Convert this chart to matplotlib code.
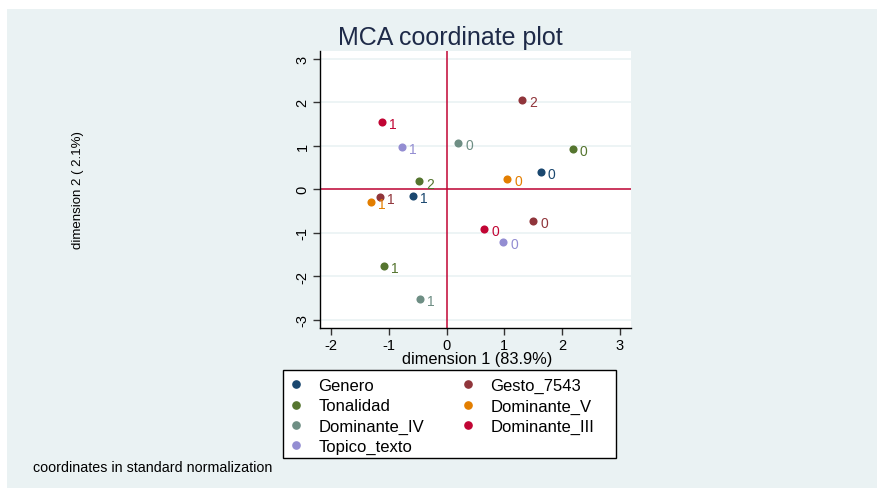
import matplotlib
matplotlib.use("Agg")
import matplotlib.pyplot as plt
from matplotlib.patches import Rectangle
from matplotlib.lines import Line2D

plt.rcParams['font.family'] = ['Liberation Sans', 'DejaVu Sans']

# Data: (variable, category labels, dim1, dim2)
variables = ["Genero", "Gesto_7543", "Tonalidad", "Dominante_V",
             "Dominante_IV", "Dominante_III", "Topico_texto"]
colors = ["#1A476F", "#90353B", "#55752F", "#E37E00",
          "#6E8E84", "#C10534", "#938DD2"]

genero_cats = ["0", "1"]
genero_d1 = [1.63, -0.58]
genero_d2 = [0.39, -0.15]

gesto_cats = ["2", "1", "0"]
gesto_d1 = [1.31, -1.15, 1.50]
gesto_d2 = [2.05, -0.17, -0.72]

tonalidad_cats = ["0", "1", "2"]
tonalidad_d1 = [2.19, -1.08, -0.48]
tonalidad_d2 = [0.93, -1.76, 0.18]

domv_cats = ["0", "1"]
domv_d1 = [1.05, -1.31]
domv_d2 = [0.23, -0.30]

domiv_cats = ["0", "1"]
domiv_d1 = [0.20, -0.46]
domiv_d2 = [1.06, -2.52]

domiii_cats = ["1", "0"]
domiii_d1 = [-1.12, 0.65]
domiii_d2 = [1.55, -0.92]

topico_cats = ["1", "0"]
topico_d1 = [-0.77, 0.98]
topico_d2 = [0.97, -1.22]

series = [
    (genero_cats, genero_d1, genero_d2),
    (gesto_cats, gesto_d1, gesto_d2),
    (tonalidad_cats, tonalidad_d1, tonalidad_d2),
    (domv_cats, domv_d1, domv_d2),
    (domiv_cats, domiv_d1, domiv_d2),
    (domiii_cats, domiii_d1, domiii_d2),
    (topico_cats, topico_d1, topico_d2),
]

xticks = [-2, -1, 0, 1, 2, 3]
yticks = [-3, -2, -1, 0, 1, 2, 3]

W, H = 878, 489
fig = plt.figure(figsize=(W / 100, H / 100), dpi=100)
fig.patch.set_facecolor("white")
bg = "#EAF2F3"
fig.patches.append(Rectangle((7 / W, 0), 870 / W, 479 / H, transform=fig.transFigure,
                             facecolor=bg, edgecolor="none", zorder=-10))

ax = fig.add_axes([320 / W, 1 - 329 / H, 311 / W, 277 / H])
ax.set_facecolor("white")
ax.set_xlim(-2.197, 3.196)
ax.set_ylim(-3.19, 3.18)

for s in ["top", "right"]:
    ax.spines[s].set_visible(False)
for s in ["left", "bottom"]:
    ax.spines[s].set_color("#000000")
    ax.spines[s].set_linewidth(1.0)

ax.set_xticks(xticks)
ax.set_yticks(yticks)
ax.set_xticklabels([str(t) for t in xticks])
ax.set_yticklabels([str(t) for t in yticks], rotation=90, va="center")
ax.tick_params(axis="both", length=5, width=1, color="#333333", labelsize=10.5,
               labelcolor="#000000", pad=2.5)
ax.yaxis.grid(True, color=bg, linewidth=1.2)
ax.set_axisbelow(True)

ax.axvline(0, color="#C10534", linewidth=1.1, zorder=1)
ax.axhline(0, color="#C10534", linewidth=1.1, zorder=1)

handles = {}
for var, col, (cats, d1, d2) in zip(variables, colors, series):
    ax.scatter(d1, d2, s=34, color=col, zorder=3, linewidths=0)
    for c, x, y in zip(cats, d1, d2):
        ax.annotate(c, (x, y), xytext=(5, -1.5), textcoords="offset points",
                    color=col, fontsize=10, va="center", ha="left", zorder=4)
    handles[var] = Line2D([], [], marker="o", linestyle="none", color=col,
                          markersize=5.2, label=var)

fig.text(477 / W, 1 - 360 / H, "dimension 1 (83.9%)", ha="center", va="center",
         fontsize=11.8)
fig.text(78 / W, 1 - 190 / H, "dimension 2 ( 2.1%)", ha="center", va="center",
         fontsize=9.5, rotation=90)
fig.text(450 / W, 1 - 38 / H, "MCA coordinate plot", ha="center", va="center",
         fontsize=18, color="#1E2A48")
fig.text(33 / W, 1 - 468 / H, "coordinates in standard normalization",
         ha="left", va="center", fontsize=10.3)

# legend frame
fig.patches.append(Rectangle((283 / W, 1 - 459 / H), 333 / W, 88 / H,
                             transform=fig.transFigure, facecolor="white",
                             edgecolor="#000000", linewidth=1.0, zorder=1))

col1 = ["Genero", "Tonalidad", "Dominante_IV", "Topico_texto"]
col2 = ["Gesto_7543", "Dominante_V", "Dominante_III"]
fs = 12
pad_px = 0.4 * fs * 100 / 72
hl = 0.8
for names, marker_x in [(col1, 296), (col2, 468)]:
    left = marker_x - pad_px - hl * fs * 100 / 72 / 2
    lg = fig.legend([handles[v] for v in names], names, ncol=1,
                    loc="upper left",
                    bbox_to_anchor=(left / W, 1 - 372.5 / H),
                    frameon=False, fontsize=fs, handletextpad=0.94,
                    handlelength=hl, labelspacing=0.32, borderaxespad=0,
                    borderpad=0.4)
    lg.set_zorder(5)

fig.savefig("out.png", dpi=100, facecolor=fig.get_facecolor())
